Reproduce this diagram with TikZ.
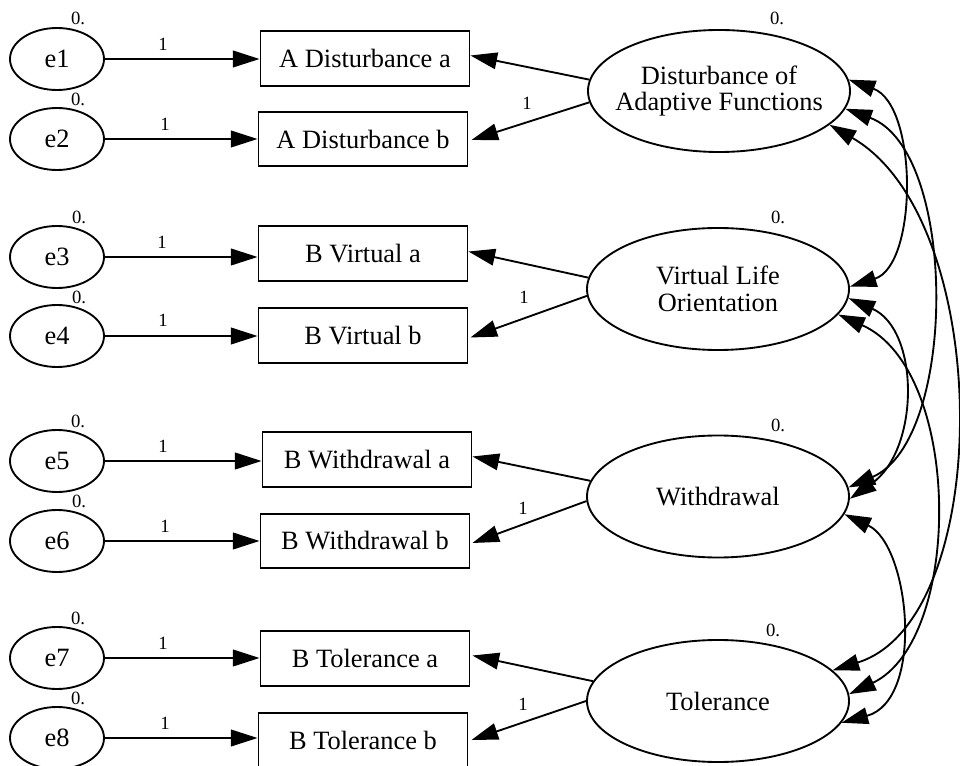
\documentclass[tikz,border=0pt]{standalone}
\usepackage{fontspec}
\setmainfont{Liberation Serif}
\usetikzlibrary{shapes.geometric,arrows.meta,calc}
\begin{document}
\begin{tikzpicture}[x=0.75pt,y=-0.75pt,
  line width=1.4pt,
  bigfont/.style={font=\fontsize{19.8pt}{19pt}\selectfont},
  smallfont/.style={font=\fontsize{14pt}{16pt}\selectfont},
  errnode/.style={ellipse,draw,minimum width=70.5pt,minimum height=46.5pt,inner sep=0pt,bigfont},
  obsbox/.style={rectangle,draw,minimum width=156.75pt,minimum height=41pt,inner sep=0pt,bigfont},
  latent/.style={ellipse,draw,minimum width=196.5pt,minimum height=91.5pt,inner sep=0pt},
  latlabel/.style={bigfont,align=center,inner sep=0pt},
  num/.style={smallfont,inner sep=0pt},
  onehead/.style={-{Triangle[length=20pt,width=12.5pt]}},
  twohead/.style={{Triangle[length=20pt,width=12.5pt]}-{Triangle[length=20pt,width=12.5pt]}},
]
\useasboundingbox (0,0) rectangle (960,766);

% error terms
\node[errnode] (e1) at (57,59) {e1};
\node[errnode] (e2) at (57,139) {e2};
\node[errnode] (e3) at (57,257) {e3};
\node[errnode] (e4) at (57,336) {e4};
\node[errnode] (e5) at (57,461) {e5};
\node[errnode] (e6) at (57,541) {e6};
\node[errnode] (e7) at (57,658) {e7};
\node[errnode] (e8) at (57,738) {e8};

\node[num] (z1) at (78,18) {0.};
\node[num] (z2) at (78,99) {0.};
\node[num] (z3) at (79,217) {0.};
\node[num] (z4) at (79,297) {0.};
\node[num] (z5) at (78,421) {0.};
\node[num] (z6) at (79,501) {0.};
\node[num] (z7) at (78,618) {0.};
\node[num] (z8) at (78,698) {0.};

% observed boxes
\node[obsbox] (aa) at (365,58.5) {A Disturbance a};
\node[obsbox] (ab) at (363,139) {A Disturbance b};
\node[obsbox] (va) at (363,253.5) {B Virtual a};
\node[obsbox] (vb) at (363,335.5) {B Virtual b};
\node[obsbox] (wa) at (367,459.5) {B Withdrawal a};
\node[obsbox] (wb) at (365,541) {B Withdrawal b};
\node[obsbox] (ta) at (365,658.5) {B Tolerance a};
\node[obsbox] (tb) at (363,740) {B Tolerance b};

% error -> box
\foreach \e/\b in {e1/aa,e2/ab,e3/va,e4/vb,e5/wa,e6/wb,e7/ta,e8/tb}{
  \draw[onehead] (\e.east) -- (\e.east -| \b.west);
}
\node[num] (o1) at (163,44) {1};
\node[num] (o2) at (165,124) {1};
\node[num] (o3) at (162,242) {1};
\node[num] (o4) at (163,320) {1};
\node[num] (o5) at (163,446) {1};
\node[num] (o6) at (165,526) {1};
\node[num] (o7) at (163,643) {1};
\node[num] (o8) at (165,723) {1};

% latent factors
\node[latent] (daf) at (719,91) {};
\node[latlabel] (daft) at (719,91) {Disturbance of\\[1pt]Adaptive Functions};
\node[latent] (vlo) at (718,289) {};
\node[latlabel] (vlot) at (718,289) {Virtual Life\\[1pt]Orientation};
\node[latent] (wd) at (718,496.5) {};
\node[latlabel] (wdt) at (718,496.5) {Withdrawal};
\node[latent] (tol) at (718,701) {};
\node[latlabel] (tolt) at (718,701) {Tolerance};

\node[num] (zd) at (777,18) {0.};
\node[num] (zv) at (778,217) {0.};
\node[num] (zw) at (778,425) {0.};
\node[num] (zt) at (773,630) {0.};

% loadings
\draw[onehead] (daf.175) -- ($(aa.east)+(0,-3)$);
\draw[onehead] (daf.185) -- ($(ab.east)+(3,1)$);
\draw[onehead] (vlo.175) -- ($(va.east)+(0,-2)$);
\draw[onehead] (vlo.183) -- ($(vb.east)+(2,2)$);
\draw[onehead] (wd.173) -- ($(wa.east)+(0,-3)$);
\draw[onehead] (wd.182) -- ($(wb.east)+(2,2)$);
\draw[onehead] (tol.171) -- ($(ta.east)+(2,-3)$);
\draw[onehead] (tol.180) -- ($(tb.east)+(3,0)$);
\node[num] (ld) at (527,103) {1};
\node[num] (lv) at (524,297) {1};
\node[num] (lw) at (523,508) {1};
\node[num] (lt) at (523,704) {1};

% covariances
\draw[twohead] (daf.5) .. controls (918,105) and (918,265) .. (vlo.1);
\draw[twohead] (daf.-8) .. controls (958,150) and (958,440) .. (wd.4);
\draw[twohead] (daf.-17) .. controls (995,220) and (995,620) .. (tol.15);
\draw[twohead] (vlo.-4) .. controls (920,330) and (920,450) .. (wd.-1);
\draw[twohead] (vlo.-12) .. controls (963,370) and (963,640) .. (tol.3);
\draw[twohead] (wd.-8) .. controls (910,545) and (925,700) .. (tol.-10);
\end{tikzpicture}
\end{document}
